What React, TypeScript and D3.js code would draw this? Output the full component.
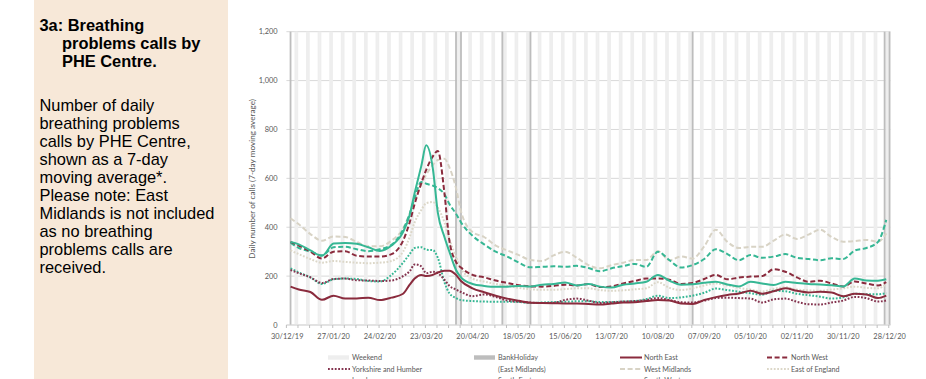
import React from "react";
import * as d3 from "d3";

const dates = [
  "2020-01-01","2020-01-06","2020-01-13","2020-01-20","2020-01-27","2020-02-03","2020-02-10","2020-02-17","2020-02-24","2020-03-02",
  "2020-03-09","2020-03-13","2020-03-16","2020-03-20","2020-03-23","2020-03-27","2020-03-30","2020-04-03","2020-04-06","2020-04-10",
  "2020-04-13","2020-04-20","2020-04-27","2020-05-04","2020-05-11","2020-05-18","2020-05-25","2020-06-01","2020-06-08","2020-06-15",
  "2020-06-22","2020-06-29","2020-07-06","2020-07-13","2020-07-20","2020-07-27","2020-08-03","2020-08-10","2020-08-17","2020-08-24",
  "2020-08-31","2020-09-07","2020-09-14","2020-09-21","2020-09-28","2020-10-05","2020-10-12","2020-10-19","2020-10-26","2020-11-02",
  "2020-11-09","2020-11-16","2020-11-23","2020-11-30","2020-12-07","2020-12-14","2020-12-21","2020-12-26",
];

const northEast = [
  157,145,135,103,120,108,108,112,102,112,
  128,165,190,205,200,205,215,222,222,205,
  180,150,134,120,108,99,91,90,89,88,
  88,86,84,88,92,93,98,102,100,88,
  86,102,114,123,129,140,128,138,150,140,
  133,136,133,118,128,125,110,120,
];
const northWest = [
  340,325,300,272,300,302,283,280,280,290,
  345,420,495,580,635,690,712,540,345,258,
  235,205,195,182,172,163,158,157,160,165,
  162,168,155,158,170,180,190,190,185,168,
  172,188,205,187,194,198,200,228,218,195,
  177,181,170,158,178,170,162,175,
];
const yorkshire = [
  225,212,195,172,188,190,183,182,180,182,
  200,220,248,240,212,218,212,185,160,145,
  135,118,125,115,100,95,92,90,91,103,
  108,100,90,93,96,98,102,110,102,93,
  92,100,110,112,110,108,92,105,108,95,
  85,84,92,100,115,110,96,100,
];
const westMidlands = [
  436,412,372,345,362,360,340,322,322,345,
  395,455,510,575,615,655,675,680,645,560,
  465,380,360,325,305,286,266,262,285,300,
  275,245,232,245,255,266,266,302,265,280,
  272,322,390,340,315,320,320,345,370,352,
  370,390,360,341,343,348,341,375,
];
const eastOfEngland = [
  305,290,270,255,262,258,255,253,255,262,
  300,360,420,470,498,503,480,420,350,280,
  230,190,178,168,160,152,146,144,144,147,
  150,150,143,140,142,146,150,175,152,143,
  150,162,170,162,152,145,137,148,155,145,
  142,140,145,150,157,152,150,168,
];
const london = [
  340,330,305,283,333,336,332,318,303,325,
  380,450,540,650,735,640,460,360,300,225,
  195,168,160,156,157,160,158,165,168,174,
  162,168,157,153,165,170,177,205,181,165,
  167,173,177,166,158,177,170,164,177,172,
  168,166,163,158,190,182,181,187,
];
const southEast = [
  337,315,300,285,318,320,310,302,310,328,
  390,455,520,585,578,570,560,535,495,455,
  420,365,330,300,280,255,236,238,240,238,
  242,233,220,232,241,250,238,300,265,235,
  245,270,310,290,265,286,275,280,290,275,
  270,265,273,270,305,315,340,430,
];
const southWest = [
  232,215,195,168,187,190,188,180,178,205,
  255,290,315,318,308,306,275,175,130,110,
  102,98,96,95,95,94,90,92,94,95,
  97,97,94,94,96,98,106,120,110,113,
  120,132,149,143,136,130,124,140,138,128,
  122,116,108,113,128,126,126,130,
];

const bankHolidays = ["2020-01-01","2020-04-10","2020-04-13","2020-05-08","2020-05-25","2020-08-31","2020-12-25","2020-12-28"];
const xTickDates = ["2019-12-30","2020-01-27","2020-02-24","2020-03-23","2020-04-20","2020-05-18","2020-06-15","2020-07-13","2020-08-10","2020-09-07","2020-10-05","2020-11-02","2020-11-30","2020-12-28"];
const yTicks = [0, 200, 400, 600, 800, 1000, 1200];

const titleLines = ["3a: Breathing", "problems calls by", "PHE Centre."];
const bodyLines = [
  "Number of daily",
  "breathing problems",
  "calls by PHE Centre,",
  "shown as a 7-day",
  "moving average*.",
  "Please note: East",
  "Midlands is not included",
  "as no breathing",
  "problems calls are",
  "received.",
];

const MAROON = "#8a2b3d";
const MAROON2 = "#84344f";
const TEAL = "#36b794";
const BEIGE = "#d8d3c5";
const BEIGE2 = "#dcd7c8";

const DASH = "5 2.6";
const DOT = "1.8 1.6";

const series = [
  { name: "North East", values: northEast, color: MAROON, dash: "" },
  { name: "North West", values: northWest, color: MAROON, dash: DASH },
  { name: "Yorkshire and Humber", values: yorkshire, color: MAROON2, dash: DOT },
  { name: "West Midlands", values: westMidlands, color: BEIGE, dash: DASH },
  { name: "East of England", values: eastOfEngland, color: BEIGE2, dash: DOT },
  { name: "London", values: london, color: TEAL, dash: "" },
  { name: "South East", values: southEast, color: TEAL, dash: DASH },
  { name: "South West", values: southWest, color: TEAL, dash: DOT },
];
const drawOrder = ["West Midlands", "East of England", "South West", "Yorkshire and Humber", "North East", "South East", "North West", "London"];

const legendItems = [
  { label: "Weekend", kind: "weekend", col: 0, row: 0 },
  { label: "BankHoliday", kind: "bank", col: 1, row: 0 },
  { label: "North East", kind: "North East", col: 2, row: 0 },
  { label: "North West", kind: "North West", col: 3, row: 0 },
  { label: "Yorkshire and Humber", kind: "Yorkshire and Humber", col: 0, row: 1 },
  { label: "(East Midlands)", kind: "none", col: 1, row: 1 },
  { label: "West Midlands", kind: "West Midlands", col: 2, row: 1 },
  { label: "East of England", kind: "East of England", col: 3, row: 1 },
  { label: "London", kind: "London", col: 0, row: 2 },
  { label: "South East", kind: "South East", col: 1, row: 2 },
  { label: "South West", kind: "South West", col: 2, row: 2 },
];

const parse = d3.utcParse("%Y-%m-%d");
const DAY = 86400000;

export default function App() {
  const plotL = 286.4, plotR = 890.4, plotB = 325, plotT = 31.7;
  const start = parse("2019-12-30")!.getTime();
  const end = parse("2020-12-28")!.getTime();
  const x = d3.scaleUtc().domain([new Date(start - DAY / 2), new Date(end + DAY / 2)]).range([plotL, plotR]);
  const y = d3.scaleLinear().domain([0, 1200]).range([plotB, plotT]);
  const dayW = x(new Date(start + DAY)) - x(new Date(start));

  const allDays = d3.utcDay.range(new Date(start), new Date(end + DAY));
  const weekends = allDays.filter((d) => d.getUTCDay() === 0 || d.getUTCDay() === 6);
  const weekTicks = d3.range(0, 365, 7).map((i) => x(new Date(start + i * DAY)) - dayW / 2);

  const fmt = d3.utcFormat("%d/%m/%y");
  const parsed = dates.map((s) => parse(s)!);

  const line = (vals: number[]) =>
    d3.line<number>().x((_, i) => x(parsed[i])).y((v) => y(v)).curve(d3.curveMonotoneX)(vals) || "";

  const font = "Lato, 'Liberation Sans', sans-serif";
  const axisColor = "#595959";
  const colX = [328, 474, 620, 767];
  const rowY = [357.5, 369, 380];

  return (
    <svg width={926} height={379} style={{ position: "absolute", left: 0, top: 0, display: "block", background: "#fff" }}>
      <rect x={34} y={0} width={194} height={379} fill="#f7e8d8" />
      <g fontFamily="'Liberation Sans', Arial, sans-serif" fill="#000">
        {titleLines.map((t, i) => (
          <text key={t} x={i === 0 ? 39.5 : 62} y={30.5 + i * 18} fontSize={16.4} fontWeight="bold">{t}</text>
        ))}
        {bodyLines.map((t, i) => (
          <text key={t} x={39.5} y={111 + i * 17.95} fontSize={16.4}>{t}</text>
        ))}
      </g>

      {/* horizontal gridlines */}
      {yTicks.map((t) => (
        <line key={t} x1={plotL} x2={plotR} y1={y(t)} y2={y(t)} stroke="#d9d9d9" strokeWidth={1} />
      ))}
      {/* weekend columns */}
      {weekends.map((d) => (
        <rect key={d.getTime()} x={x(d) - dayW / 2 - 0.2} y={y(1200)} width={dayW + 0.4} height={y(0) - y(1200)} fill="#eeeeee" />
      ))}
      {/* bank holiday columns */}
      {bankHolidays.map((s) => (
        <rect key={s} x={x(parse(s)!) - 0.9} y={y(1200)} width={1.8} height={y(0) - y(1200)} fill="#bdbdbd" />
      ))}
      {/* x axis line and ticks */}
      <line x1={plotL} x2={plotR} y1={plotB} y2={plotB} stroke="#d9d9d9" />
      {weekTicks.map((tx, i) => (
        <line key={i} x1={tx} x2={tx} y1={plotB} y2={plotB + 3} stroke="#bfbfbf" />
      ))}

      {/* series */}
      <g fill="none">
        {drawOrder.map((n) => {
          const s = series.find((q) => q.name === n)!;
          return (
            <path key={n} d={line(s.values)} stroke={s.color} strokeWidth={2} strokeDasharray={s.dash || undefined} strokeLinejoin="round" />
          );
        })}
      </g>

      {/* axis labels */}
      <g fontFamily={font} fontSize={7.4} fill={axisColor}>
        {yTicks.map((t) => (
          <text key={t} x={277.5} y={y(t) + 2.6} textAnchor="end">{d3.format(",")(t)}</text>
        ))}
        {xTickDates.map((s) => (
          <text key={s} x={x(parse(s)!)} y={339} textAnchor="middle">{fmt(parse(s)!)}</text>
        ))}
        <text transform={`translate(255,${(plotT + plotB) / 2 + 0.5}) rotate(-90)`} textAnchor="middle" fontSize={8.2}>
          Daily number of calls (7-day moving average)
        </text>
      </g>

      {/* legend */}
      <g fontFamily={font} fontSize={7.2} fill={axisColor}>
        {legendItems.map((it) => {
          const lx = colX[it.col];
          const ly = rowY[it.row];
          const s = series.find((q) => q.name === it.kind);
          let sw: React.ReactNode = null;
          if (it.kind === "weekend") sw = <rect x={lx} y={ly - 2.2} width={21} height={4.4} fill="#eeeeee" />;
          else if (it.kind === "bank") sw = <rect x={lx} y={ly - 2.2} width={21} height={4.4} fill="#bdbdbd" />;
          else if (s) sw = <line x1={lx} x2={lx + 22} y1={ly} y2={ly} stroke={s.color} strokeWidth={2} strokeDasharray={s.dash || undefined} />;
          return (
            <g key={it.label}>
              {sw}
              <text x={lx + 24} y={ly + 2.5}>{it.label}</text>
            </g>
          );
        })}
      </g>
    </svg>
  );
}
